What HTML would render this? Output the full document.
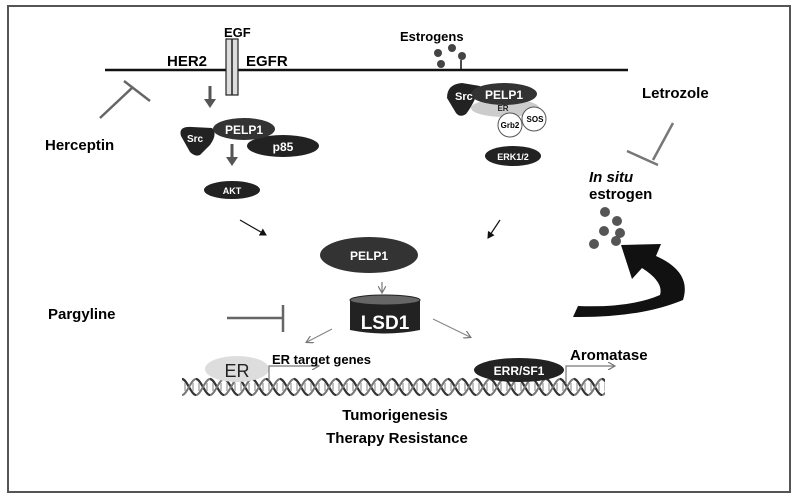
<!DOCTYPE html>
<html><head><meta charset="utf-8"><style>
html,body{margin:0;padding:0;background:#fff}
svg{display:block}
text{font-family:"Liberation Sans",Arial,sans-serif;font-weight:bold}
</style></head><body>
<svg width="800" height="502" viewBox="0 0 800 502" xmlns="http://www.w3.org/2000/svg">
<defs>
<pattern id="dna" x="182" y="376" width="14" height="22" patternUnits="userSpaceOnUse">
<path d="M0,3 C5,3 9,19 14,19" fill="none" stroke="#333" stroke-width="2.2"/>
<path d="M0,19 C5,19 9,3 14,3" fill="none" stroke="#777" stroke-width="2"/>
<line x1="3" y1="7" x2="3" y2="15" stroke="#aaa" stroke-width="1.5"/>
<line x1="11" y1="7" x2="11" y2="15" stroke="#aaa" stroke-width="1.5"/>
</pattern>
<marker id="ah" markerWidth="8" markerHeight="8" refX="6" refY="4" orient="auto" markerUnits="userSpaceOnUse"><path d="M0,0 L7,4 L0,8" fill="none" stroke="#777" stroke-width="1.2"/></marker>
<marker id="ahb" markerWidth="8" markerHeight="8" refX="6" refY="4" orient="auto" markerUnits="userSpaceOnUse"><path d="M0,0 L7,4 L0,8 Z" fill="#111"/></marker>
</defs>
<rect x="8" y="6" width="782" height="486" fill="#fff" stroke="#555" stroke-width="2"/>
<line x1="105" y1="70" x2="628" y2="70" stroke="#111" stroke-width="2.5"/>
<rect x="226" y="39" width="12" height="56" fill="#ddd" stroke="#222" stroke-width="1.2"/>
<line x1="232" y1="39" x2="232" y2="95" stroke="#222" stroke-width="1.5"/>
<text x="224" y="37" font-size="13">EGF</text>
<text x="167" y="66" font-size="15">HER2</text>
<text x="246" y="66" font-size="15">EGFR</text>
<line x1="100" y1="118" x2="133" y2="87" stroke="#666" stroke-width="2.5"/>
<line x1="124" y1="81" x2="150" y2="101" stroke="#666" stroke-width="2.5"/>
<text x="45" y="150" font-size="15">Herceptin</text>
<line x1="210" y1="86" x2="210" y2="100" stroke="#555" stroke-width="3"/>
<path d="M204,99 L216,99 L210,108 Z" fill="#555"/>
<path d="M181,136 Q178,126 192,127 L212,128 Q218,134 210,145 L200,155 Q195,157 190,152 Z" fill="#222"/>
<ellipse cx="283" cy="146" rx="36" ry="11" fill="#222"/>
<ellipse cx="244" cy="129" rx="31" ry="11" fill="#333"/>
<text x="187" y="142" font-size="10" fill="#fff">Src</text>
<text x="244" y="134" font-size="12" fill="#fff" text-anchor="middle">PELP1</text>
<text x="283" y="151" font-size="12" fill="#fff" text-anchor="middle">p85</text>
<line x1="232" y1="144" x2="232" y2="158" stroke="#555" stroke-width="3"/>
<path d="M226,157 L238,157 L232,166 Z" fill="#555"/>
<ellipse cx="232" cy="190" rx="28" ry="9" fill="#222"/>
<text x="232" y="194" font-size="9" fill="#fff" text-anchor="middle">AKT</text>
<text x="400" y="41" font-size="13">Estrogens</text>
<circle cx="438" cy="53" r="4" fill="#444"/><circle cx="452" cy="48" r="4" fill="#444"/><circle cx="462" cy="56" r="4" fill="#444"/><circle cx="441" cy="64" r="4" fill="#444"/>
<line x1="461" y1="60" x2="461" y2="69" stroke="#111" stroke-width="1.5"/>
<path d="M447,98 Q447,84 462,83 L480,86 Q474,104 466,114 Q460,118 456,113 Z" fill="#222"/>
<ellipse cx="505" cy="108" rx="34" ry="9" fill="#ccc"/>
<ellipse cx="504" cy="94" rx="33" ry="11" fill="#333"/>
<text x="455" y="100" font-size="11" fill="#fff">Src</text>
<text x="504" y="99" font-size="12" fill="#fff" text-anchor="middle">PELP1</text>
<text x="503" y="111" font-size="8" fill="#222" text-anchor="middle">ER</text>
<circle cx="510" cy="125" r="12" fill="#fff" stroke="#555"/>
<circle cx="534" cy="119" r="12" fill="#fff" stroke="#555"/>
<text x="510" y="128" font-size="8" text-anchor="middle">Grb2</text>
<text x="535" y="122" font-size="8" text-anchor="middle">SOS</text>
<ellipse cx="513" cy="156" rx="28" ry="10" fill="#222"/>
<text x="513" y="160" font-size="9" fill="#fff" text-anchor="middle">ERK1/2</text>
<text x="642" y="98" font-size="15">Letrozole</text>
<line x1="673" y1="123" x2="653" y2="160" stroke="#777" stroke-width="2.5"/>
<line x1="627" y1="151" x2="658" y2="165" stroke="#777" stroke-width="2.5"/>
<text x="589" y="182" font-size="15" font-style="italic">In situ</text>
<text x="589" y="199" font-size="15">estrogen</text>
<g fill="#555"><circle cx="605" cy="212" r="5"/><circle cx="617" cy="221" r="5"/><circle cx="604" cy="231" r="5"/><circle cx="620" cy="233" r="5"/><circle cx="594" cy="244" r="5"/><circle cx="616" cy="241" r="5"/></g>
<path d="M573,317 Q640,318 683,300 Q692,272 656,256 L661,244 L621,245 L632,279 L642,268 Q664,282 660,295 Q630,308 578,306 Z" fill="#111"/>
<line x1="240" y1="220" x2="266" y2="235" stroke="#111" stroke-width="1.2" marker-end="url(#ahb)"/>
<line x1="500" y1="220" x2="488" y2="238" stroke="#111" stroke-width="1.2" marker-end="url(#ahb)"/>
<ellipse cx="369" cy="255" rx="49" ry="18" fill="#333"/>
<text x="369" y="260" font-size="12" fill="#fff" text-anchor="middle">PELP1</text>
<line x1="382" y1="282" x2="382" y2="292" stroke="#777" stroke-width="1.2" marker-end="url(#ah)"/>
<path d="M350,300 L350,330 Q385,337 420,330 L420,300 Z" fill="#222"/>
<ellipse cx="385" cy="300" rx="35" ry="5" fill="#666" stroke="#222"/>
<text x="385" y="329" font-size="19" fill="#fff" text-anchor="middle">LSD1</text>
<text x="48" y="319" font-size="15">Pargyline</text>
<line x1="227" y1="318" x2="283" y2="318" stroke="#666" stroke-width="2.5"/>
<line x1="283" y1="305" x2="283" y2="332" stroke="#666" stroke-width="2.5"/>
<line x1="332" y1="329" x2="307" y2="342" stroke="#888" stroke-width="1.2" marker-end="url(#ah)"/>
<line x1="433" y1="319" x2="470" y2="337" stroke="#888" stroke-width="1.2" marker-end="url(#ah)"/>
<rect x="182" y="376" width="423" height="22" fill="url(#dna)"/>
<ellipse cx="237" cy="369" rx="32" ry="13" fill="#ddd"/>
<text x="237" y="377" font-size="18" fill="#222" text-anchor="middle" style="font-weight:normal">ER</text>
<path d="M269,382 L269,366 L318,366" fill="none" stroke="#777" stroke-width="1.2" marker-end="url(#ah)"/>
<text x="272" y="364" font-size="13">ER target genes</text>
<ellipse cx="519" cy="370" rx="45" ry="12" fill="#222"/>
<text x="519" y="375" font-size="12" fill="#fff" text-anchor="middle">ERR/SF1</text>
<path d="M566,384 L566,366 L614,366" fill="none" stroke="#777" stroke-width="1.2" marker-end="url(#ah)"/>
<text x="570" y="360" font-size="15">Aromatase</text>
<text x="395" y="420" font-size="15" text-anchor="middle">Tumorigenesis</text>
<text x="397" y="443" font-size="15" text-anchor="middle">Therapy Resistance</text>
</svg>
</body></html>
